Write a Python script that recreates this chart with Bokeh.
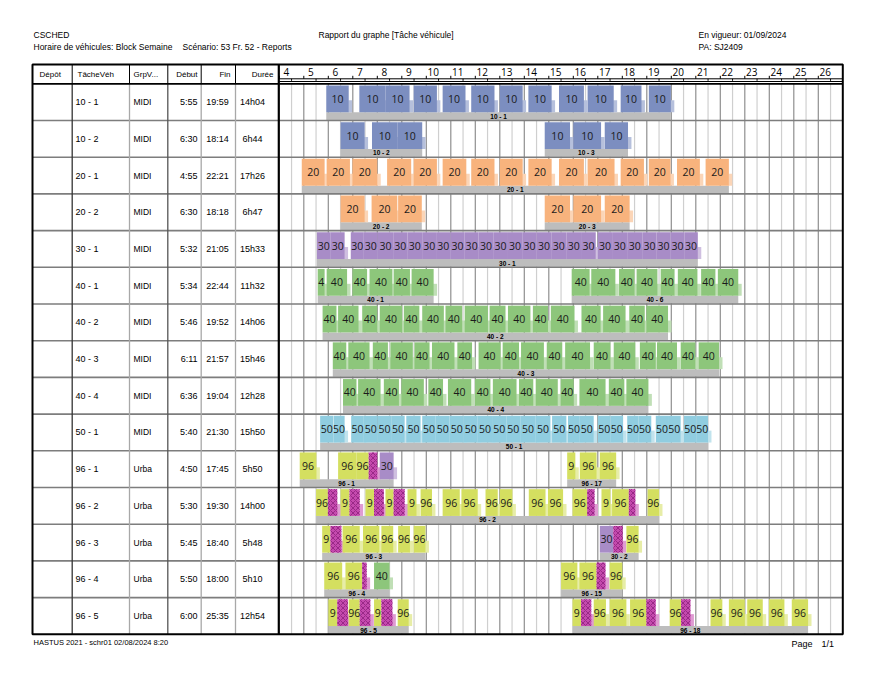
from bokeh.plotting import figure
from bokeh.models import Range1d
from bokeh.embed import file_html
from bokeh.resources import INLINE
from bokeh.core.properties import value

# ---------------- data ----------------
header_left = ["CSCHED", "Horaire de véhicules: Block Semaine", "Scénario: 53 Fr. 52 - Reports"]
header_center = ["Rapport du graphe [Tâche véhicule]"]
header_right = ["En vigueur: 01/09/2024", "PA: SJ2409"]
footer_left = ["HASTUS 2021 - schr01 02/08/2024  8:20"]
footer_right = ["Page", "1/1"]

col_titles = ["Dépôt", "TâcheVéh", "GrpV...", "Début", "Fin", "Durée"]
tasks = ["10 - 1", "10 - 2", "20 - 1", "20 - 2", "30 - 1", "40 - 1", "40 - 2", "40 - 3",
         "40 - 4", "50 - 1", "96 - 1", "96 - 2", "96 - 3", "96 - 4", "96 - 5"]
groups = ["MIDI"] * 10 + ["Urba"] * 5
starts = ["5:55", "6:30", "4:55", "6:30", "5:32", "5:34", "5:46", "6:11", "6:36", "5:40",
          "4:50", "5:30", "5:45", "5:50", "6:00"]
ends = ["19:59", "18:14", "22:21", "18:18", "21:05", "22:44", "19:52", "21:57", "19:04", "21:30",
        "17:45", "19:30", "18:40", "18:00", "25:35"]
durations = ["14h04", "6h44", "17h26", "6h47", "15h33", "11h32", "14h06", "15h46", "12h28", "15h50",
             "5h50", "14h00", "5h48", "5h10", "12h54"]

hour_ticks = list(range(4, 27))

block_rows = [0, 1, 1, 2, 3, 3, 4, 5, 5, 6, 7, 8, 9, 10, 10, 11, 12, 12, 13, 13, 14, 14]
block_names = ["10 - 1", "10 - 2", "10 - 3", "20 - 1", "20 - 2", "20 - 3", "30 - 1", "40 - 1", "40 - 6",
               "40 - 2", "40 - 3", "40 - 4", "50 - 1", "96 - 1", "96 - 17", "96 - 2", "96 - 3", "30 - 2",
               "96 - 4", "96 - 15", "96 - 5", "96 - 18"]
block_starts = ["5:55", "6:30", "14:50", "4:55", "6:30", "14:50", "5:32", "5:34", "15:56", "5:46", "6:11",
                "6:36", "5:40", "4:50", "15:45", "5:30", "5:45", "17:05", "5:50", "15:30", "6:00", "15:58"]
block_ends = ["19:59", "9:50", "18:14", "22:21", "9:49", "18:18", "21:05", "10:18", "22:44", "19:52", "21:57",
              "19:04", "21:30", "8:40", "17:45", "19:30", "9:58", "18:40", "8:30", "18:00", "9:17", "25:35"]

# trips per row: (route, start, end); route None = hatched non-revenue piece
trips_10_1 = [("10", "5:55", "6:50"), ("10", "7:16", "8:20"), ("10", "8:20", "9:19"), ("10", "9:29", "10:26"),
              ("10", "10:40", "11:36"), ("10", "11:50", "12:47"), ("10", "13:00", "13:56"), ("10", "14:10", "15:07"),
              ("10", "15:25", "16:26"), ("10", "16:35", "17:39"), ("10", "17:56", "18:47"), ("10", "19:05", "19:59")]
trips_10_2 = [("10", "6:30", "7:29"), ("10", "7:47", "8:49"), ("10", "8:49", "9:50"),
              ("10", "14:50", "15:52"), ("10", "16:00", "17:08"), ("10", "17:17", "18:14")]
trips_20_1 = [("20", "4:55", "5:51"), ("20", "5:56", "6:53"), ("20", "6:59", "8:00"), ("20", "8:24", "9:23"),
              ("20", "9:29", "10:26"), ("20", "10:40", "11:38"), ("20", "11:50", "12:47"), ("20", "13:00", "13:56"),
              ("20", "14:10", "15:07"), ("20", "15:25", "16:26"), ("20", "16:35", "17:41"), ("20", "17:56", "18:53"),
              ("20", "19:05", "19:58"), ("20", "20:14", "21:10"), ("20", "21:24", "22:21")]
trips_20_2 = [("20", "6:30", "7:29"), ("20", "7:46", "8:49"), ("20", "8:51", "9:49"),
              ("20", "14:50", "15:52"), ("20", "16:00", "17:08"), ("20", "17:17", "18:18")]
trips_30_1 = [("30", "5:32", "6:06"), ("30", "6:06", "6:40"), ("30", "6:55", "7:27"), ("30", "7:27", "8:01"),
              ("30", "8:01", "8:39"), ("30", "8:39", "9:14"), ("30", "9:14", "9:50"), ("30", "9:50", "10:24"),
              ("30", "10:24", "10:59"), ("30", "10:59", "11:34"), ("30", "11:34", "12:08"), ("30", "12:08", "12:44"),
              ("30", "12:44", "13:20"), ("30", "13:20", "13:55"), ("30", "13:55", "14:30"), ("30", "14:30", "15:06"),
              ("30", "15:06", "15:43"), ("30", "15:43", "16:19"), ("30", "16:19", "16:55"), ("30", "17:00", "17:35"),
              ("30", "17:35", "18:12"), ("30", "18:12", "18:49"), ("30", "18:49", "19:24"), ("30", "19:24", "19:58"),
              ("30", "19:58", "20:32"), ("30", "20:32", "21:05")]
trips_40_1 = [("40", "5:34", "5:51"), ("40", "5:56", "6:46"), ("40", "6:59", "7:35"), ("40", "7:41", "8:37"),
              ("40", "8:40", "9:20"), ("40", "9:24", "10:18"), ("40", "15:56", "16:40"), ("40", "16:44", "17:43"),
              ("40", "17:52", "18:30"), ("40", "18:35", "19:26"), ("40", "19:34", "20:08"), ("40", "20:16", "21:04"),
              ("40", "21:13", "21:48"), ("40", "21:54", "22:44")]
trips_40_2 = [("40", "5:46", "6:20"), ("40", "6:24", "7:14"), ("40", "7:23", "8:00"), ("40", "8:06", "9:01"),
              ("40", "9:05", "9:43"), ("40", "9:50", "10:43"), ("40", "10:47", "11:28"), ("40", "11:34", "12:31"),
              ("40", "12:35", "13:14"), ("40", "13:20", "14:15"), ("40", "14:21", "14:58"), ("40", "15:05", "16:03"),
              ("40", "16:20", "17:07"), ("40", "17:13", "18:08"), ("40", "18:17", "18:55"), ("40", "18:59", "19:52")]
trips_40_3 = [("40", "6:11", "6:44"), ("40", "6:49", "7:41"), ("40", "7:49", "8:26"), ("40", "8:32", "9:27"),
              ("40", "9:31", "10:08"), ("40", "10:14", "11:09"), ("40", "11:16", "11:52"), ("40", "12:08", "13:02"),
              ("40", "13:07", "13:47"), ("40", "13:52", "14:48"), ("40", "14:55", "15:33"), ("40", "15:40", "16:41"),
              ("40", "16:50", "17:31"), ("40", "17:39", "18:32"), ("40", "18:43", "19:22"), ("40", "19:25", "20:14"),
              ("40", "20:23", "20:59"), ("40", "21:07", "21:57")]
trips_40_4 = [("40", "6:36", "7:09"), ("40", "7:13", "8:08"), ("40", "8:16", "8:53"), ("40", "8:59", "9:54"),
              ("40", "10:05", "10:41"), ("40", "10:53", "11:50"), ("40", "11:59", "12:37"), ("40", "12:43", "13:41"),
              ("40", "13:47", "14:22"), ("40", "14:28", "15:22"), ("40", "15:29", "16:01"), ("40", "16:15", "17:19"),
              ("40", "17:27", "18:05"), ("40", "18:10", "19:04")]
trips_50_1 = [("50", "5:40", "6:12"), ("50", "6:13", "6:40"), ("50", "6:56", "7:27"), ("50", "7:27", "8:01"),
              ("50", "8:01", "8:34"), ("50", "8:34", "9:07"), ("50", "9:11", "9:46"), ("50", "9:50", "10:23"),
              ("50", "10:23", "10:57"), ("50", "10:57", "11:32"), ("50", "11:32", "12:06"), ("50", "12:06", "12:41"),
              ("50", "12:41", "13:16"), ("50", "13:16", "13:50"), ("50", "13:50", "14:28"), ("50", "14:28", "15:04"),
              ("50", "15:08", "15:43"), ("50", "15:47", "16:16"), ("50", "16:16", "16:50"), ("50", "17:00", "17:31"),
              ("50", "17:31", "18:02"), ("50", "18:12", "18:40"), ("50", "18:40", "19:11"), ("50", "19:22", "19:52"),
              ("50", "19:52", "20:23"), ("50", "20:31", "21:02"), ("50", "21:02", "21:30")]
trips_96_1 = [("96", "4:50", "5:31"), ("96", "6:24", "7:09"), ("96", "7:09", "7:39"), (None, "7:39", "8:00"),
              ("30", "8:06", "8:40"), ("96", "15:45", "16:05"), ("96", "16:16", "16:57"), ("96", "17:05", "17:45")]
trips_96_2 = [("96", "5:30", "5:59"), (None, "5:59", "6:22"), ("96", "6:30", "6:52"), (None, "6:52", "7:17"),
              ("96", "7:31", "7:52"), (None, "7:52", "8:16"), ("96", "8:20", "8:40"), (None, "8:40", "9:07"),
              ("96", "9:14", "9:36"), ("96", "9:46", "10:14"), ("96", "10:40", "11:22"), ("96", "11:26", "12:06"),
              ("96", "12:25", "12:55"), ("96", "13:00", "13:31"), ("96", "14:11", "14:52"), ("96", "14:58", "15:35"),
              ("96", "15:58", "16:34"), (None, "16:34", "16:52"), ("96", "17:09", "17:31"), ("96", "17:35", "18:16"),
              (None, "18:16", "18:32"), ("96", "19:02", "19:30")]
trips_96_3 = [("96", "5:45", "6:05"), (None, "6:05", "6:32"), ("96", "6:35", "7:17"), ("96", "7:25", "8:05"),
              ("96", "8:10", "8:39"), ("96", "8:51", "9:20"), ("96", "9:29", "9:58"),
              ("30", "17:05", "17:38"), (None, "17:38", "18:01"), ("96", "18:10", "18:40")]
trips_96_4 = [("96", "5:50", "6:34"), ("96", "6:42", "7:23"), (None, "7:23", "7:34"), ("40", "7:52", "8:30"),
              ("96", "15:30", "16:10"), ("96", "16:15", "16:57"), (None, "16:57", "17:19"), ("96", "17:29", "18:00")]
trips_96_5 = [("96", "6:00", "6:22"), (None, "6:22", "6:48"), ("96", "6:50", "7:17"), (None, "7:17", "7:43"),
              ("96", "7:52", "8:10"), (None, "8:10", "8:37"), ("96", "8:50", "9:17"),
              ("96", "15:58", "16:19"), (None, "16:19", "16:44"), ("96", "16:50", "17:20"), ("96", "17:29", "18:10"),
              ("96", "18:19", "18:59"), (None, "18:59", "19:22"), ("96", "19:56", "20:24"), (None, "20:24", "20:47"),
              ("96", "21:36", "22:05"), ("96", "22:21", "23:00"), ("96", "23:06", "23:44"), ("96", "23:59", "24:37"),
              ("96", "24:55", "25:35")]
row_trips = [trips_10_1, trips_10_2, trips_20_1, trips_20_2, trips_30_1, trips_40_1, trips_40_2, trips_40_3,
             trips_40_4, trips_50_1, trips_96_1, trips_96_2, trips_96_3, trips_96_4, trips_96_5]

route_colors = {"10": "#7C8EC0", "20": "#F8B37D", "30": "#A88CC7", "40": "#8DC67B",
                "50": "#90CDE0", "96": "#D4DF60", None: "#C54AAE"}

# ---------------- layout constants (pixels) ----------------
W, H = 880, 680
X4 = 278.8      # pixel of hour 4
PPH = 24.5      # pixels per hour
Y0 = 83.3       # top of first row
RH = 36.7       # row height
X_L, X_R = 32.0, 842.3
Y_T, Y_B = 64.0, Y0 + 15 * RH
COL_SEP = [71.7, 129.0, 167.3, 200.7, 235.0]
X_SPLIT = 278.3

FONT = "Liberation Sans"
TRIP_FONT = "Open Sans"


def hm(s):
    h, m = s.split(":")
    return int(h) + int(m) / 60.0


def lighten(c, f):
    r, g, b = int(c[1:3], 16), int(c[3:5], 16), int(c[5:7], 16)
    r, g, b = [int(v + (255 - v) * f) for v in (r, g, b)]
    return "#%02x%02x%02x" % (r, g, b)


p = figure(width=W, height=H, x_range=Range1d(0, W), y_range=Range1d(H, 0),
           min_border=0, toolbar_location=None, output_backend="svg",
           x_axis_location=None, y_axis_location=None, title=None,
           outline_line_color=None, background_fill_color="white", border_fill_color="white")
p.xgrid.visible = False
p.ygrid.visible = False
p.extra_x_ranges = {"hours": Range1d(4 - X4 / PPH, 4 + (W - X4) / PPH)}
p.extra_y_ranges = {"rows": Range1d((H - Y0) / RH, (0 - Y0) / RH)}


def txt(xs, ys, texts, size, align="left", bold=False, color="#000000", font=FONT,
        xr="default", yr="default", x_offset=0):
    p.text(x=xs, y=ys, text=texts, text_font=value(font), text_font_size=value("%spx" % size),
           text_align=align, text_baseline="middle", text_font_style="bold" if bold else "normal",
           text_color=color, x_range_name=xr, y_range_name=yr, x_offset=x_offset)


# ---------------- page header / footer ----------------
txt([33, 33, 182], [34.5, 46.5, 46.5], header_left, 8.5)
txt([318], [34.5], header_center, 8.5)
txt([698, 698], [34.5, 46.5], header_right, 8.5)
txt([33], [642], footer_left, 7.5)
txt([791, 821], [643, 643], footer_right, 9)

# ---------------- grid ----------------
half = [h + 0.5 for h in hour_ticks]
whole = hour_ticks[1:]
p.segment(x0=half, x1=half, y0=[0] * len(half), y1=[15] * len(half), line_color="#cfcfcf",
          line_width=1.2, x_range_name="hours", y_range_name="rows")
p.segment(x0=whole, x1=whole, y0=[0] * len(whole), y1=[15] * len(whole),
          line_color="#8f8f8f", line_width=1.2, x_range_name="hours", y_range_name="rows")

# ---------------- gantt ----------------
tail_l, tail_r, tail_t, tail_b, tail_c = [], [], [], [], []
q = {"l": [], "r": [], "t": [], "b": [], "c": []}
hq = {"l": [], "r": [], "t": [], "b": []}
lab = {"x": [], "y": [], "t": []}
for ri, trips in enumerate(row_trips):
    for route, s, e in trips:
        a, b = hm(s), hm(e)
        col = route_colors[route]
        tail_l.append(b - 0.02); tail_r.append(b + 0.14)
        tail_t.append(ri + 0.45); tail_b.append(ri + 0.775)
        tail_c.append(lighten(col, 0.45))
        if route is None:
            hq["l"].append(a); hq["r"].append(b); hq["t"].append(ri + 0.045); hq["b"].append(ri + 0.775)
        else:
            q["l"].append(a); q["r"].append(b); q["t"].append(ri + 0.045); q["b"].append(ri + 0.775)
            q["c"].append(col)
            lab["x"].append((a + b) / 2)
            lab["y"].append(ri + 0.41)
            lab["t"].append(route if (b - a) * PPH >= 10.5 else route[:1])

# block bars
bl = [hm(s) for s in block_starts]
br = [hm(e) for e in block_ends]
p.quad(left=bl, right=br, top=[r + 0.775 for r in block_rows], bottom=[r + 0.985 for r in block_rows],
       fill_color="#BDBDBD", line_color=None, x_range_name="hours", y_range_name="rows")
p.quad(left=tail_l, right=tail_r, top=tail_t, bottom=tail_b, fill_color=tail_c, line_color=None,
       x_range_name="hours", y_range_name="rows")
p.quad(left=q["l"], right=q["r"], top=q["t"], bottom=q["b"], fill_color=q["c"], line_color=None,
       x_range_name="hours", y_range_name="rows")
p.quad(left=hq["l"], right=hq["r"], top=hq["t"], bottom=hq["b"], fill_color=route_colors[None],
       line_color=None, hatch_pattern="x", hatch_color="#8E1F7C", hatch_scale=5, hatch_weight=0.8,
       x_range_name="hours", y_range_name="rows")
txt(lab["x"], lab["y"], lab["t"], 10.5, align="center", font=TRIP_FONT, color="#1a1a1a",
    xr="hours", yr="rows")
txt([(a + b) / 2 for a, b in zip(bl, br)], [r + 0.885 for r in block_rows], block_names, 6.5,
    align="center", bold=True, xr="hours", yr="rows")

# ---------------- table lines ----------------
rows_inner = list(range(1, 15))
p.segment(x0=[X_L] * 14, x1=[X_R] * 14, y0=rows_inner, y1=rows_inner, line_color="#7d7d7d",
          line_width=1.6, y_range_name="rows")
p.segment(x0=COL_SEP, x1=COL_SEP, y0=[Y0] * 5, y1=[Y_B] * 5,
          line_color=["#333333", "#a8a8a8", "#555555", "#a8a8a8", "#a8a8a8"], line_width=1.3)
p.segment(x0=COL_SEP, x1=COL_SEP, y0=[Y_T] * 5, y1=[Y0] * 5, line_color="#000000", line_width=1)
p.segment(x0=[X_L, X4], x1=[X_SPLIT, X_R], y0=[Y0, Y0], y1=[Y0, Y0], line_color="#000000", line_width=1.8)
p.segment(x0=[X4], x1=[X_R], y0=[81.0], y1=[81.0], line_color="#000000", line_width=1)
p.segment(x0=[X_SPLIT], x1=[X_SPLIT], y0=[Y_T], y1=[Y_B], line_color="#000000", line_width=2.2)
p.quad(left=[X_L], right=[X_R], top=[Y_T], bottom=[Y_B], fill_color=None, line_color="#000000",
       line_width=2)

# ---------------- time scale (header row) ----------------
p.segment(x0=[4], x1=[27], y0=[78.3], y1=[78.3], line_color="#000000", line_width=1,
          x_range_name="hours")
p.segment(x0=hour_ticks, x1=hour_ticks, y0=[75.3] * len(hour_ticks), y1=[78.3] * len(hour_ticks),
          line_color="#000000", line_width=1, x_range_name="hours")
p.segment(x0=half, x1=half, y0=[78.3] * len(half), y1=[80.3] * len(half),
          line_color="#000000", line_width=1, x_range_name="hours")
txt(hour_ticks, [71.8] * len(hour_ticks), [str(h) for h in hour_ticks], 10, align="center",
    font=TRIP_FONT, xr="hours", x_offset=7)

# ---------------- table text ----------------
txt([39, 77, 133], [74] * 3, col_titles[:3], 8)
txt([197, 230, 273], [74] * 3, col_titles[3:], 8, align="right")
ry = [r + 0.5 for r in range(15)]
txt([75] * 15, ry, tasks, 9, yr="rows")
txt([133] * 15, ry, groups, 8.5, yr="rows")
txt([197] * 15, ry, starts, 9, align="right", yr="rows")
txt([217] * 15, ry, ends, 9, align="center", yr="rows")
txt([252] * 15, ry, durations, 9, align="center", yr="rows")

open("out.html", "w").write(file_html(p, INLINE))
